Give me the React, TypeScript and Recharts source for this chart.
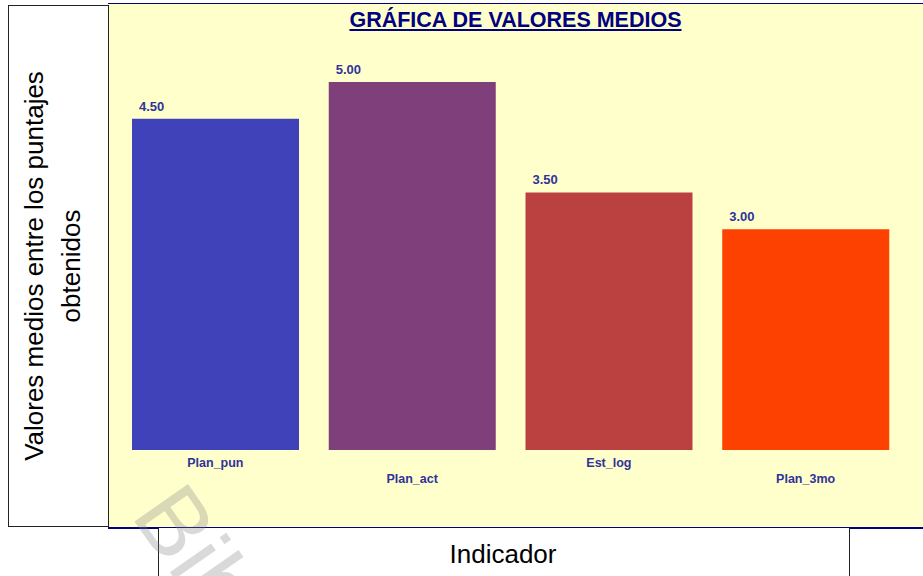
import React from 'react'
import { BarChart, Bar, XAxis, YAxis, Cell, LabelList } from 'recharts'

const categories = ['Plan_pun', 'Plan_act', 'Est_log', 'Plan_3mo']
const meanValues = [4.5, 5.0, 3.5, 3.0]
const barColors = ['#4042BA', '#7E3F7A', '#BB4141', '#FC4100']

const chartData = categories.map((name, i) => ({ name, value: meanValues[i] }))

const font = '"Liberation Sans", Arial, sans-serif'
const labelBlue = '#303399'

function CategoryTick(props: any) {
  const { x, y, payload, index } = props
  const dy = index % 2 === 0 ? 17 : 33
  return (
    <text
      x={x}
      y={y + dy}
      textAnchor="middle"
      fill={labelBlue}
      fontSize={12.5}
      fontWeight="bold"
      fontFamily={font}
    >
      {payload.value}
    </text>
  )
}

function ValueLabel(props: any) {
  const { x, y, value } = props
  return (
    <text x={x + 7} y={y - 8} fill={labelBlue} fontSize={13} fontWeight="bold" fontFamily={font}>
      {Number(value).toFixed(2)}
    </text>
  )
}

export default function App() {
  return (
    <div style={{ position: 'absolute', left: 0, top: 0, width: 923, height: 576, overflow: 'hidden', fontFamily: font }}>
      {/* plot background */}
      <div
        style={{
          position: 'absolute',
          left: 108,
          top: 3,
          width: 815,
          height: 523,
          background: '#FFFFCC',
          borderTop: '1px solid #000080',
          borderBottom: '2px solid #000080',
        }}
      />
      {/* left axis title box */}
      <div
        style={{
          position: 'absolute',
          left: 8,
          top: 5,
          width: 99,
          height: 520,
          background: '#fff',
          border: '1px solid #222',
        }}
      />
      {/* bottom axis title box */}
      <div
        style={{
          position: 'absolute',
          left: 158,
          top: 528,
          width: 690,
          height: 60,
          background: '#fff',
          borderLeft: '1px solid #222',
          borderRight: '1px solid #222',
        }}
      />
      <div
        style={{
          position: 'absolute',
          left: 108,
          top: 8,
          width: 815,
          textAlign: 'center',
          color: '#000080',
          fontSize: 21.5,
          fontWeight: 'bold',
          textDecoration: 'underline',
        }}
      >
        GRÁFICA DE VALORES MEDIOS
      </div>
      <div style={{ position: 'absolute', left: 0, top: 0 }}>
        <BarChart
          width={923}
          height={576}
          data={chartData}
          margin={{ top: 82, right: 19, bottom: 96, left: 117 }}
          barCategoryGap={15}
        >
          <YAxis hide width={0} domain={[0, 5]} />
          <XAxis
            dataKey="name"
            axisLine={false}
            tickLine={false}
            tickSize={0}
            tickMargin={0}
            height={30}
            interval={0}
            tick={<CategoryTick />}
          />
          <Bar dataKey="value" isAnimationActive={false}>
            {chartData.map((d, i) => (
              <Cell key={d.name} fill={barColors[i]} />
            ))}
            <LabelList dataKey="value" content={<ValueLabel />} />
          </Bar>
        </BarChart>
      </div>
      <svg
        width={923}
        height={576}
        style={{ position: 'absolute', left: 0, top: 0, pointerEvents: 'none' }}
      >
        <text transform="translate(43,266) rotate(-90)" textAnchor="middle" fontSize={26} fontFamily={font} fill="#000">
          Valores medios entre los puntajes
        </text>
        <text transform="translate(80,266) rotate(-90)" textAnchor="middle" fontSize={26} fontFamily={font} fill="#000">
          obtenidos
        </text>
        <text x={503} y={563} textAnchor="middle" fontSize={26} fontFamily={font} fill="#000">
          Indicador
        </text>
        <text
          transform="translate(130,515) rotate(55)"
          fontSize={95}
          fontFamily={font}
          fill="#808080"
          fillOpacity={0.3}
        >
          Biblioteca
        </text>
      </svg>
    </div>
  )
}
